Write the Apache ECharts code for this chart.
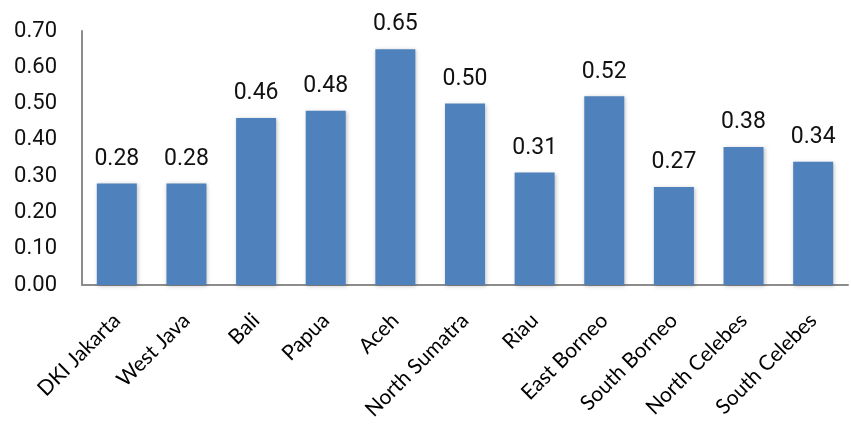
<!DOCTYPE html>
<html>
<head>
<meta charset="utf-8">
<script src="https://cdn.jsdelivr.net/npm/echarts@6/dist/echarts.min.js"></script>
<style>
  html, body { margin: 0; padding: 0; background: #fff; }
  #chart { width: 851px; height: 431px; }
</style>
</head>
<body>
<div id="chart"></div>
<script>
// Regions and their index values
const regions = ['DKI Jakarta', 'West Java', 'Bali', 'Papua', 'Aceh', 'North Sumatra',
  'Riau', 'East Borneo', 'South Borneo', 'North Celebes', 'South Celebes'];
const values = [0.28, 0.28, 0.46, 0.48, 0.65, 0.50, 0.31, 0.52, 0.27, 0.38, 0.34];

// Value axis range
const yMin = 0;
const yMax = 0.7;
const yStep = 0.1;

const numFont = 'Roboto, "Liberation Sans", sans-serif';

const chart = echarts.init(document.getElementById('chart'));
chart.setOption({
  animation: false,
  grid: { left: 82, right: 3, top: 31, bottom: 146, containLabel: false },
  xAxis: {
    type: 'category',
    data: regions,
    axisLine: { show: true, lineStyle: { color: '#8c8c8c', width: 2 } },
    axisTick: { show: false },
    axisLabel: {
      rotate: 45,
      interval: 0,
      margin: 32,
      fontFamily: 'Lato, "Open Sans", sans-serif',
      fontSize: 21,
      color: '#000'
    }
  },
  yAxis: {
    type: 'value',
    min: yMin,
    max: yMax,
    interval: yStep,
    splitLine: { show: false },
    axisLine: { show: true, lineStyle: { color: '#8c8c8c', width: 2 } },
    axisTick: { show: false },
    axisLabel: {
      margin: 25,
      fontFamily: numFont,
      fontSize: 22,
      color: '#111',
      formatter: v => v.toFixed(2)
    }
  },
  series: [{
    type: 'bar',
    data: values,
    barWidth: 40,
    itemStyle: {
      color: '#4f81bd',
      shadowColor: 'rgba(0,0,0,0.25)',
      shadowBlur: 4,
      shadowOffsetX: 1,
      shadowOffsetY: 1
    },
    label: {
      show: true,
      position: 'top',
      distance: 13,
      fontFamily: numFont,
      fontSize: 23,
      color: '#111',
      formatter: p => p.value.toFixed(2)
    }
  }]
});
</script>
</body>
</html>
